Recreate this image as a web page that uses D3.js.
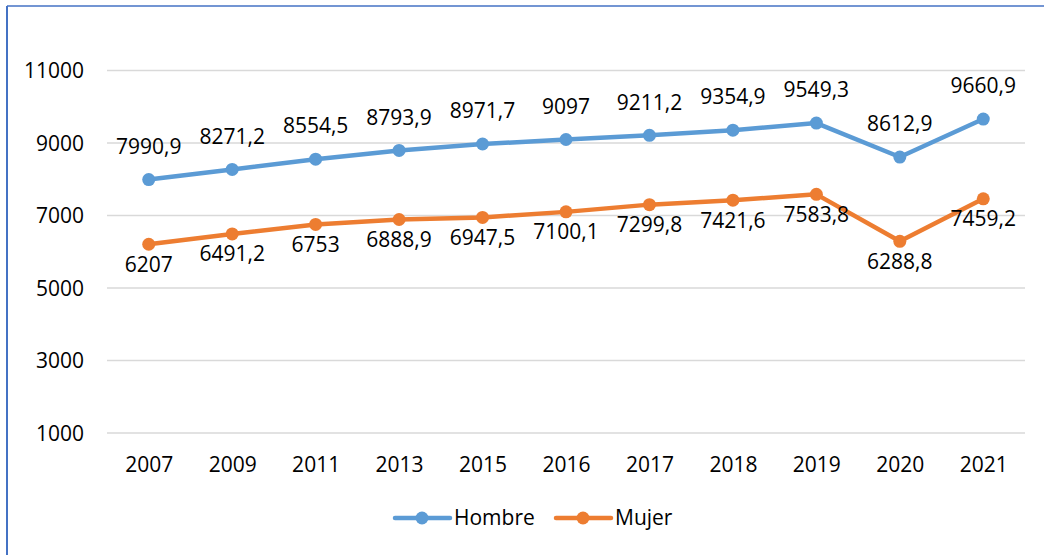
<!DOCTYPE html>
<html>
<head>
<meta charset="utf-8">
<script src="https://cdn.jsdelivr.net/npm/d3@7"></script>
<style>
  html, body { margin: 0; padding: 0; background: #fff; }
  svg { display: block; }
  text { font-family: "Open Sans", "Noto Sans", sans-serif; fill: #000; }
</style>
</head>
<body>
<svg id="chart" width="1044" height="555"></svg>
<script>
const years = ["2007","2009","2011","2013","2015","2016","2017","2018","2019","2020","2021"];
const hombre = [7990.9, 8271.2, 8554.5, 8793.9, 8971.7, 9097, 9211.2, 9354.9, 9549.3, 8612.9, 9660.9];
const mujer  = [6207, 6491.2, 6753, 6888.9, 6947.5, 7100.1, 7299.8, 7421.6, 7583.8, 6288.8, 7459.2];
const yTicks = [1000, 3000, 5000, 7000, 9000, 11000];
const seriesNames = ["Hombre", "Mujer"];
const seriesColors = ["#5B9BD5", "#ED7D31"];

const svg = d3.select("#chart");
const W = 1044, H = 555;
const fontSize = 21;

// border (blue, left and top)
svg.append("line").attr("x1", 7).attr("x2", 7).attr("y1", 6).attr("y2", H)
  .attr("stroke", "#4472C4").attr("stroke-width", 2);
svg.append("line").attr("x1", 7).attr("x2", W).attr("y1", 6).attr("y2", 6)
  .attr("stroke", "#4472C4").attr("stroke-width", 1.5);

const plotLeft = 107, plotRight = 1025;
const x = d3.scalePoint().domain(years).range([plotLeft, plotRight]).padding(0.5);
const y = d3.scaleLinear().domain([1000, 12000]).range([433, 433 - 11000 * 0.03625]);

// gridlines
svg.append("g").selectAll("line").data(yTicks).join("line")
  .attr("x1", plotLeft).attr("x2", plotRight)
  .attr("y1", d => y(d)).attr("y2", d => y(d))
  .attr("stroke", "#d9d9d9").attr("stroke-width", 1.5);

// y axis labels
const yAxis = d3.axisLeft(y).tickValues(yTicks).tickSize(0).tickPadding(0).tickFormat(d => String(d));
const gy = svg.append("g").attr("transform", "translate(84,0)").call(yAxis);
gy.select(".domain").remove();
gy.selectAll("text").style("font-size", fontSize + "px").style("font-family", null).attr("fill", "#000").attr("dy", "0.35em");

// x axis labels
const xAxis = d3.axisBottom(x).tickSize(0).tickPadding(0);
const gx = svg.append("g").attr("transform", "translate(0,457)").call(xAxis);
gx.select(".domain").remove();
gx.selectAll("text").style("font-size", fontSize + "px").style("font-family", null).attr("fill", "#000").attr("dy", "0.71em");

const fmt = v => String(v).replace(".", ",");
const data = [hombre, mujer];
const labelDy = [-33, 20];

data.forEach((vals, si) => {
  const line = d3.line().x((d, i) => x(years[i])).y(d => y(d));
  svg.append("path").datum(vals).attr("d", line)
    .attr("fill", "none").attr("stroke", seriesColors[si])
    .attr("stroke-width", 4.5).attr("stroke-linejoin", "round").attr("stroke-linecap", "round");
  svg.append("g").selectAll("circle").data(vals).join("circle")
    .attr("cx", (d, i) => x(years[i])).attr("cy", d => y(d)).attr("r", 6.5)
    .attr("fill", seriesColors[si]);
  svg.append("g").selectAll("text").data(vals).join("text")
    .attr("x", (d, i) => x(years[i])).attr("y", d => y(d) + labelDy[si])
    .attr("text-anchor", "middle").attr("dy", "0.35em")
    .style("font-size", fontSize + "px")
    .text(d => fmt(d));
});

// legend
const legendItems = [{x0: 395, name: seriesNames[0], c: seriesColors[0]}, {x0: 556, name: seriesNames[1], c: seriesColors[1]}];
const lg = svg.append("g");
legendItems.forEach(it => {
  lg.append("line").attr("x1", it.x0).attr("x2", it.x0 + 55).attr("y1", 518).attr("y2", 518)
    .attr("stroke", it.c).attr("stroke-width", 4.5).attr("stroke-linecap", "round");
  lg.append("circle").attr("cx", it.x0 + 27).attr("cy", 518).attr("r", 6.5).attr("fill", it.c);
  lg.append("text").attr("x", it.x0 + 59).attr("y", 518).attr("dy", "0.35em")
    .style("font-size", fontSize + "px").text(it.name);
});
</script>
</body>
</html>
